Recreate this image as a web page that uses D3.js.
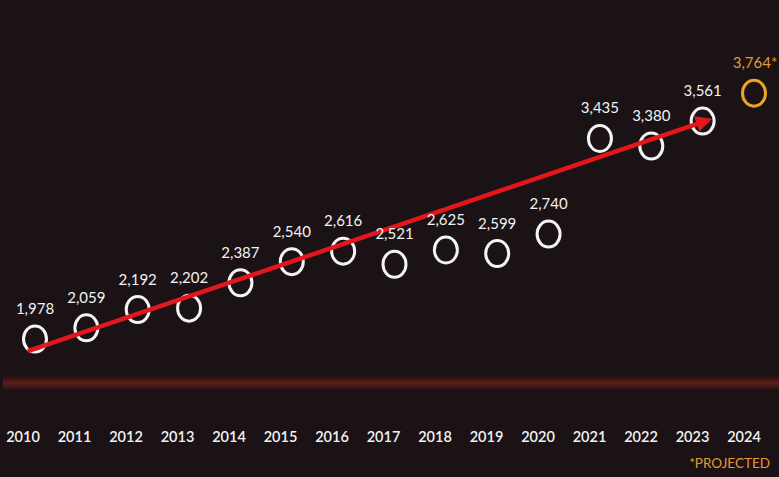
<!DOCTYPE html>
<html>
<head>
<meta charset="utf-8">
<script src="https://cdn.jsdelivr.net/npm/d3@7"></script>
<style>
  html, body { margin: 0; padding: 0; background: #1b1315; }
  svg { display: block; }
</style>
</head>
<body>
<script>
// ---- data ----
const years = [2010, 2011, 2012, 2013, 2014, 2015, 2016, 2017, 2018, 2019, 2020, 2021, 2022, 2023, 2024];
const values = [1978, 2059, 2192, 2202, 2387, 2540, 2616, 2521, 2625, 2599, 2740, 3435, 3380, 3561, 3764];
const projected = [false, false, false, false, false, false, false, false, false, false, false, false, false, false, true];
const valueLabels = ["1,978", "2,059", "2,192", "2,202", "2,387", "2,540", "2,616", "2,521", "2,625", "2,599", "2,740", "3,435", "3,380", "3,561", "3,764*"];
const yearLabels = ["2010", "2011", "2012", "2013", "2014", "2015", "2016", "2017", "2018", "2019", "2020", "2021", "2022", "2023", "2024"];
// trend arrow (year, value)
const trendYears = [2009.86, 2023.24];
const trendValues = [1890, 3585];
const footnote = "*PROJECTED";

const W = 779, H = 477;
const svg = d3.select("body").append("svg").attr("width", W).attr("height", H);

svg.append("rect").attr("width", W).attr("height", H).attr("fill", "#1a1214");

const x = d3.scaleLinear().domain([2010, 2024]).range([35, 754]);
const xLab = d3.scalePoint().domain(yearLabels).range([23, 744]);
const y = d3.scaleLinear().domain([1500, 4000]).range([404.8, 60.65]);

const defs = svg.append("defs");
const grad = defs.append("linearGradient").attr("id", "band").attr("x1", 0).attr("y1", 0).attr("x2", 0).attr("y2", 1);
grad.append("stop").attr("offset", "0%").attr("stop-color", "#5a1a16").attr("stop-opacity", 0);
grad.append("stop").attr("offset", "50%").attr("stop-color", "#601d17").attr("stop-opacity", 1);
grad.append("stop").attr("offset", "100%").attr("stop-color", "#5a1a16").attr("stop-opacity", 0);

// baseline band
svg.append("rect").attr("x", 3).attr("y", 375).attr("width", W - 3).attr("height", 16).attr("fill", "url(#band)");

defs.append("marker").attr("id", "arrowhead")
  .attr("viewBox", "0 0 10 10").attr("refX", 8).attr("refY", 5)
  .attr("markerWidth", 4).attr("markerHeight", 3.6)
  .attr("markerUnits", "strokeWidth")
  .attr("orient", "auto")
  .append("path").attr("d", "M0,0 L10,5 L0,10 Z").attr("fill", "#e3161c");

const data = years.map((yr, i) => ({ yr, v: values[i], p: projected[i], label: valueLabels[i] }));

// circles
svg.selectAll("ellipse.pt").data(data).enter().append("ellipse")
  .attr("class", "pt")
  .attr("cx", d => x(d.yr)).attr("cy", d => y(d.v))
  .attr("rx", 11.5).attr("ry", 13)
  .attr("fill", "none")
  .attr("stroke", d => d.p ? "#eba723" : "#f4f4f4")
  .attr("stroke-width", 3);

// trend arrow
svg.append("line")
  .attr("x1", x(trendYears[0])).attr("y1", y(trendValues[0]))
  .attr("x2", x(trendYears[1]) - 6).attr("y2", y(trendValues[1]) + 2)
  .attr("stroke", "#e3161c").attr("stroke-width", 4.5)
  .attr("marker-end", "url(#arrowhead)");

// value labels
svg.selectAll("text.val").data(data).enter().append("text")
  .attr("class", "val")
  .attr("x", d => x(d.yr) + (d.p ? 1 : 0)).attr("y", d => y(d.v) - 25)
  .attr("text-anchor", "middle")
  .attr("font-family", "Lato, 'Open Sans', sans-serif")
  .attr("font-size", 15)
  .attr("fill", d => d.p ? "#e39a36" : "#f2f2f2")
  .text(d => d.label);

// year axis labels
svg.selectAll("text.yr").data(yearLabels).enter().append("text")
  .attr("class", "yr")
  .attr("x", d => xLab(d)).attr("y", 442)
  .attr("text-anchor", "middle")
  .attr("font-family", "Lato, 'Open Sans', sans-serif")
  .attr("font-size", 14.5)
  .attr("font-weight", 600)
  .attr("fill", "#f2f2f2")
  .text(d => d);

svg.append("text")
  .attr("x", 770).attr("y", 468)
  .attr("text-anchor", "end")
  .attr("font-family", "Lato, 'Open Sans', sans-serif")
  .attr("font-size", 13.5)
  .attr("fill", "#e39a36")
  .text(footnote);
</script>
</body>
</html>
